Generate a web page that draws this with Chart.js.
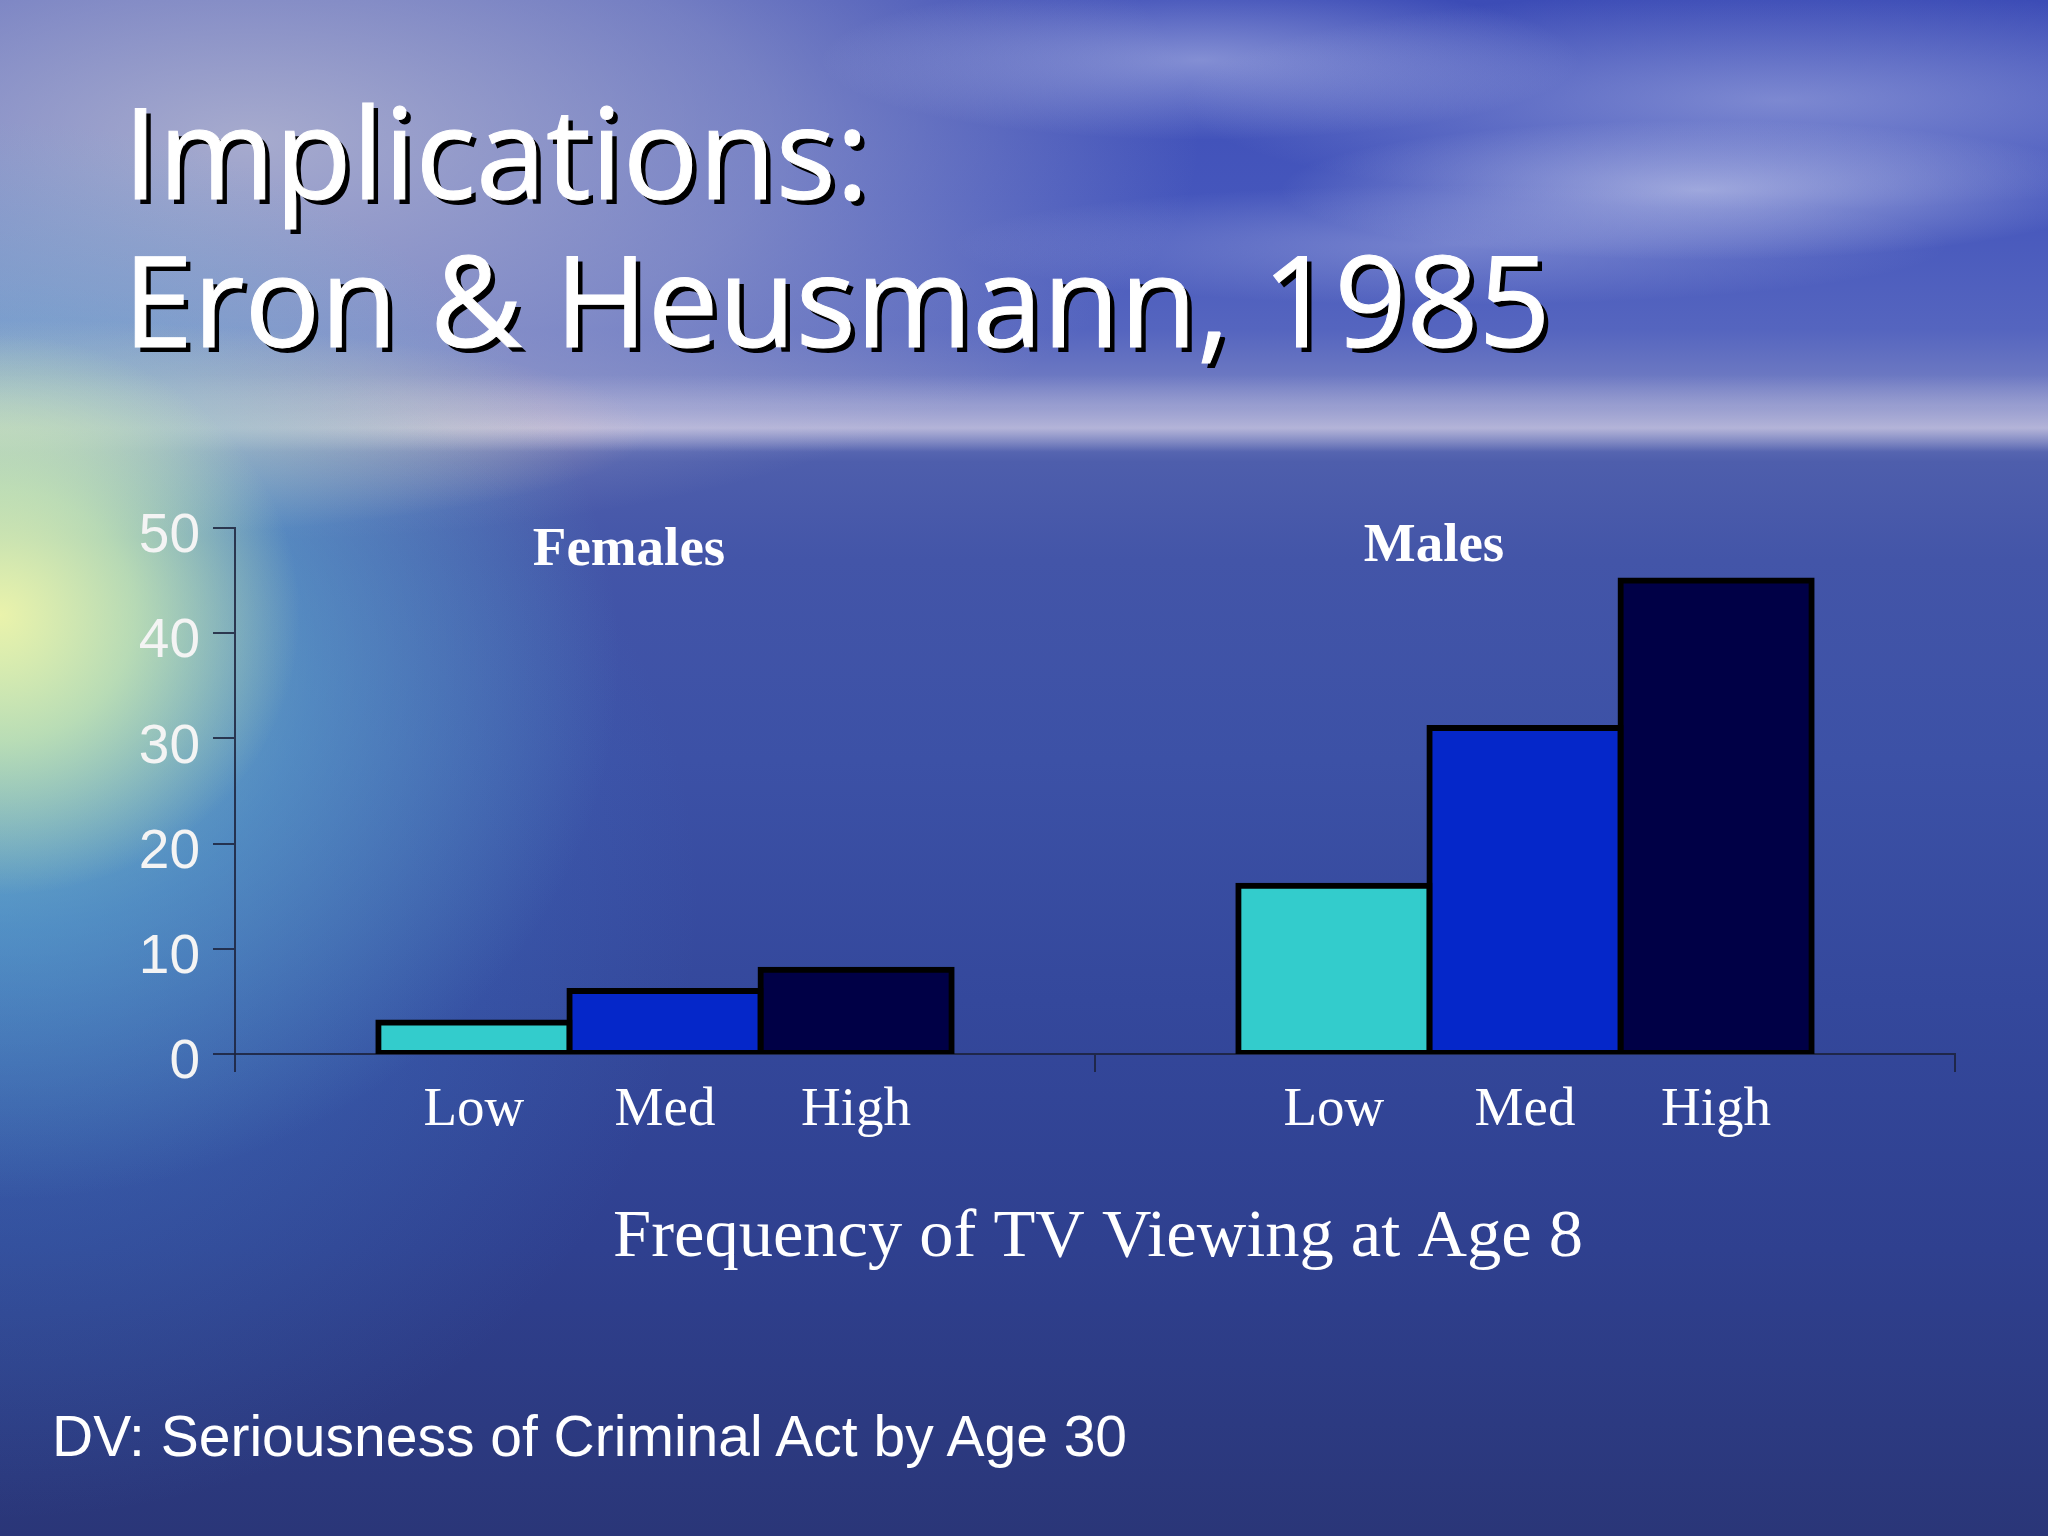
<!DOCTYPE html>
<html>
<head>
<meta charset="utf-8">
<script src="https://cdn.jsdelivr.net/npm/chart.js@4.4.1/dist/chart.umd.min.js"></script>
<style>
  html, body { margin: 0; padding: 0; }
  body {
    width: 2048px; height: 1536px; overflow: hidden; position: relative;
    background:
      radial-gradient(ellipse 300px 280px at 0px 615px, rgba(240,246,170,0.95) 0%, rgba(215,240,175,0.7) 45%, rgba(215,240,175,0) 100%),
      radial-gradient(ellipse 620px 540px at 0px 660px, rgba(150,225,205,0.7) 0%, rgba(110,195,215,0.42) 50%, rgba(110,195,215,0) 100%),
      radial-gradient(ellipse 700px 620px at 0px 900px, rgba(70,140,210,0.5) 0%, rgba(70,140,210,0) 100%),
      radial-gradient(ellipse 650px 110px at 0px 430px, rgba(245,205,180,0.8) 0%, rgba(245,205,180,0) 100%),
      linear-gradient(to bottom, rgba(0,0,0,0) 375px, rgba(205,202,228,0.4) 408px, rgba(230,222,236,0.6) 428px, rgba(0,0,0,0) 452px),
      radial-gradient(ellipse 420px 70px at 1700px 190px, rgba(225,228,245,0.55) 0%, rgba(225,228,245,0) 100%),
      radial-gradient(ellipse 600px 110px at 1780px 100px, rgba(215,220,245,0.4) 0%, rgba(215,220,245,0) 100%),
      radial-gradient(ellipse 380px 80px at 1200px 60px, rgba(215,220,245,0.45) 0%, rgba(215,220,245,0) 100%),
      radial-gradient(ellipse 500px 60px at 1450px 245px, rgba(215,220,245,0.3) 0%, rgba(215,220,245,0) 100%),
      radial-gradient(ellipse 950px 400px at 250px 140px, rgba(200,200,212,0.75) 0%, rgba(185,188,210,0.45) 55%, rgba(185,188,210,0) 100%),
      linear-gradient(to bottom, #3c4cb6 0px, #4556bc 200px, #5565bf 330px, #7a84c4 405px, #4e5eac 462px, #4355a8 560px, #3c51a6 760px, #34489c 1000px, #2f408f 1250px, #2a3678 1536px);
  }
  #title {
    position: absolute; left: 123px; top: 76px;
    font-family: "Open Sans", sans-serif; font-size: 126px; line-height: 148px;
    color: #fff; text-shadow: 5px 5px 0 #000; white-space: pre;
    -webkit-text-stroke: 1px #fff;
  }
  #note {
    position: absolute; left: 52px; top: 1408px;
    font-family: "Liberation Sans", Arial, sans-serif; font-size: 57px; line-height: 57px;
    color: #fff;
  }
  #wrap { position: absolute; left: 0; top: 0; width: 2048px; height: 1536px; }
</style>
</head>
<body>
<div id="title">Implications:
Eron &amp; Heusmann, 1985</div>
<div id="wrap"><canvas id="chart"></canvas></div>
<div id="note">DV: Seriousness of Criminal Act by Age 30</div>
<script>
const groups = ["Females", "Males"];
const levels = ["Low", "Med", "High"];
const lowValues = [3, 16];
const medValues = [6, 31];
const highValues = [8, 45];
const yTicks = [0, 10, 20, 30, 40, 50];
const xTitle = "Frequency of TV Viewing at Age 8";

const barColors = ["#33cccc", "#0527c9", "#000046"];
const groupLabelDx = [-36, -91];
const groupLabelDy = [23, 19];
const axisColor = "rgba(28,34,60,0.85)";

const seriesValues = [lowValues, medValues, highValues];

// text under and above the bars, placed from bar elements and scales
const labelPlugin = {
    id: "labels",
    afterDraw(chart) {
        const ctx = chart.ctx;
        const area = chart.chartArea;
        const xScale = chart.scales.x;
        ctx.save();
        ctx.fillStyle = "#fff";
        ctx.textAlign = "center";
        ctx.textBaseline = "middle";

        ctx.font = "55px 'Liberation Serif', 'Times New Roman', serif";
        chart.data.datasets.forEach((ds, i) => {
            chart.getDatasetMeta(i).data.forEach(bar => {
                ctx.fillText(levels[i], bar.x, area.bottom + 57);
            });
        });

        ctx.font = "bold 55px 'Liberation Serif', 'Times New Roman', serif";
        groups.forEach((g, i) => {
            ctx.fillText(g, xScale.getPixelForValue(i) + groupLabelDx[i], area.top + groupLabelDy[i]);
        });

        ctx.font = "68.5px 'Liberation Serif', 'Times New Roman', serif";
        ctx.fillText(xTitle, (area.left + area.right) / 2 + 3, area.bottom + 184);
        ctx.restore();
    }
};

const ctx = document.getElementById("chart");

new Chart(ctx, {
    type: "bar",
    data: {
        labels: groups,
        datasets: levels.map((lvl, i) => ({
            label: lvl,
            data: seriesValues[i],
            backgroundColor: barColors[i],
            borderColor: "#000",
            borderWidth: 6,
            inflateAmount: 3,
            borderSkipped: false,
            barPercentage: 1,
            categoryPercentage: 2 / 3
        }))
    },
    options: {
        responsive: true,
        maintainAspectRatio: false,
        animation: false,
        layout: {
            padding: { left: 135, right: 93, top: 528, bottom: 232 }
        },
        plugins: {
            legend: { display: false },
            tooltip: { enabled: false }
        },
        scales: {
            x: {
                grid: {
                    display: true,
                    drawOnChartArea: false,
                    drawTicks: true,
                    tickLength: 18,
                    color: axisColor,
                    lineWidth: 2,
                    offset: true
                },
                border: { color: axisColor, width: 2 },
                ticks: { display: false },
                afterFit: scale => { scale.height = 250; }
            },
            y: {
                min: yTicks[0],
                max: yTicks[yTicks.length - 1],
                afterBuildTicks: scale => {
                    scale.ticks = yTicks.map(v => ({ value: v }));
                },
                grid: {
                    display: true,
                    drawOnChartArea: false,
                    drawTicks: true,
                    tickLength: 22,
                    color: axisColor,
                    lineWidth: 2
                },
                border: { color: axisColor, width: 2 },
                ticks: {
                    color: "#f4f4f4",
                    padding: 13,
                    labelOffset: 9,
                    font: { family: "'Liberation Sans', Arial, sans-serif", size: 55 }
                },
                afterFit: scale => { scale.width = 100; }
            }
        }
    },
    plugins: [labelPlugin]
});
</script>
</body>
</html>
